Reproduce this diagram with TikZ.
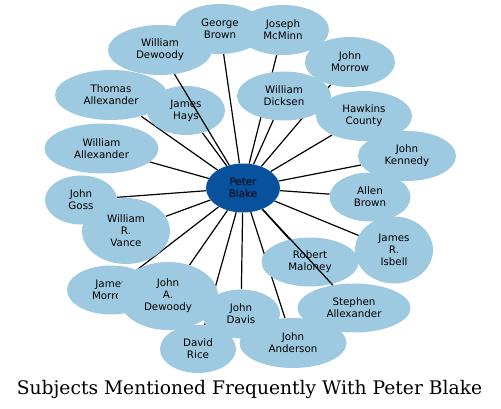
\documentclass[tikz,border=0pt]{standalone}
\usepackage{fontspec}
\usepackage{tikz}
\usetikzlibrary{shapes.geometric}
\usetikzlibrary{backgrounds}
\newfontfamily\labelfont{DejaVu Sans}
\newfontfamily\titlefont{DejaVu Serif}
\definecolor{leafblue}{RGB}{158,202,225}
\definecolor{hubblue}{RGB}{8,81,156}

\begin{document}
\begin{tikzpicture}[x=1pt,y=-1pt]
  \tikzset{leaf/.style={ellipse,fill=leafblue,inner sep=0pt,align=center,
      font=\labelfont\fontsize{10.3}{12}\selectfont}}
  \tikzset{hub/.style={leaf,fill=hubblue}}
  \tikzset{sz/.style 2 args={minimum width=#1pt,minimum height=#2pt}}
  \tikzset{spoke/.style={draw=black,line width=1.2pt}}
  \useasboundingbox (0,0) rectangle (501,409);

  \node[leaf,sz={90}{50}] (gb) at (220,29) {George\\Brown};
  \node[leaf,sz={92}{50}] (jm) at (283,30) {Joseph\\McMinn};
  \node[leaf,sz={104}{50}] (wd) at (160,50) {William\\Dewoody};
  \node[leaf,sz={90}{50}] (jmo) at (350,62) {John\\Morrow};
  \node[leaf,sz={112}{50}] (ta) at (111,95) {Thomas\\Allexander};
  \node[leaf,sz={78}{49}] (jh) at (186,110.5) {James\\Hays};
  \node[leaf,sz={94}{49}] (wdi) at (284,96) {William\\Dicksen};
  \node[leaf,sz={96}{50}] (hc) at (364,116) {Hawkins\\County};
  \node[leaf,sz={114}{50}] (wa) at (101.5,148.5) {William\\Allexander};
  \node[leaf,sz={98}{50}] (jk) at (407,156) {John\\Kennedy};
  \node[leaf,sz={72}{49}] (jg) at (81,200) {John\\Goss};
  \node[leaf,sz={81}{49}] (ab) at (370,197) {Allen\\Brown};
  \node[leaf,sz={88}{66}] (wv) at (126,231) {William\\R.\\Vance};
  \node[leaf,sz={78}{67}] (ji) at (394,250) {James\\R.\\Isbell};
  \node[leaf,sz={97}{49}] (rm) at (310,262) {Robert\\Maloney};
  \node[leaf,sz={88}{49}] (jmr) at (111,290) {James\\Morrow};
  \node[leaf,sz={100}{68}] (jad) at (168,296) {John\\A.\\Dewoody};
  \node[leaf,sz={76}{48}] (dr) at (198,349) {David\\Rice};
  \node[leaf,sz={78}{49}] (jd) at (241,314) {John\\Davis};
  \node[leaf,sz={113}{49}] (sa) at (354,308) {Stephen\\Allexander};
  \node[leaf,sz={107}{50}] (ja) at (293,343) {John\\Anderson};
  \node[hub,sz={74}{49}] (pb) at (243,188) {Peter\\Blake};

  % spokes behind the ellipses
  \begin{scope}[on background layer]
    \foreach \n in {gb,jm,jmo,ta,jh,wdi,hc,wa,jk,jg,ab,wv,ji,jmr,jad,dr,jd,ja}
      \draw[spoke] (pb) -- (\n);
  \end{scope}

  % spokes drawn over the ellipses
  \path[spoke] (pb) edge (wd)
        (pb) edge (rm)
        (pb) edge (sa);

  \node[font=\titlefont\fontsize{18.7}{21}\selectfont,anchor=base] (title) at (249.5,394)
    {Subjects Mentioned Frequently With Peter Blake};
\end{tikzpicture}
\end{document}
